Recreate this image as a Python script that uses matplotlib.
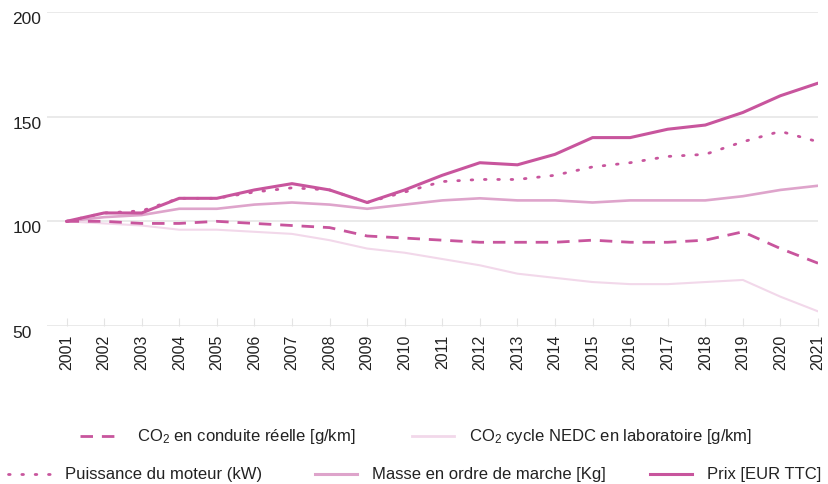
import matplotlib

matplotlib.use("Agg")
from matplotlib import pyplot as plt
from matplotlib.lines import Line2D

plt.rcParams["font.family"] = ["Liberation Sans", "DejaVu Sans"]
plt.rcParams["mathtext.default"] = "regular"

years = list(range(2001, 2022))

co2_real = [100, 100, 99, 99, 100, 99, 98, 97, 93, 92, 91, 90, 90, 90, 91, 90, 90, 91, 95, 87, 80]
co2_nedc = [100, 99, 98, 96, 96, 95, 94, 91, 87, 85, 82, 79, 75, 73, 71, 70, 70, 71, 72, 64, 57]
power = [100, 104, 105, 111, 111, 114, 116, 115, 109, 114, 119, 120, 120, 122, 126, 128, 131, 132, 138, 143, 138]
mass = [100, 102, 103, 106, 106, 108, 109, 108, 106, 108, 110, 111, 110, 110, 109, 110, 110, 110, 112, 115, 117]
price = [100, 104, 104, 111, 111, 115, 118, 115, 109, 115, 122, 128, 127, 132, 140, 140, 144, 146, 152, 160, 166]

y_ticks = [50, 100, 150, 200]

labels = {
    "co2_real": "CO$_2$ en conduite réelle [g/km]",
    "co2_nedc": "CO$_2$ cycle NEDC en laboratoire [g/km]",
    "power": "Puissance du moteur (kW)",
    "mass": "Masse en ordre de marche [Kg]",
    "price": "Prix [EUR TTC]",
}

strong = "#c8559d"
medium = "#dea4cb"
pale = "#f2d8ea"
grid_color = "#e4e4e4"
text_color = "#222222"

dashed = (4.5, 3.2)
dotted = (0, (0.6, 4.2))

W, H = 829, 484
fig = plt.figure(figsize=(W / 100, H / 100), dpi=100)
fig.patch.set_facecolor("white")

# axes box in pixels: left 47, right 818, top 12, bottom 326
ax = fig.add_axes([47 / W, 1 - 326 / H, (818 - 47) / W, (326 - 12) / H])

ax.plot(years, co2_nedc, color=pale, linewidth=1.5, solid_capstyle="round")
ax.plot(years, mass, color=medium, linewidth=1.9, solid_capstyle="round")
ax.plot(years, co2_real, color=strong, linewidth=2.0, dashes=dashed)
ax.plot(years, power, color=strong, linewidth=2.0, linestyle=dotted,
        dash_capstyle="round")
ax.plot(years, price, color=strong, linewidth=2.2, solid_capstyle="round")

ax.set_xlim(2000.48, 2021)
ax.set_ylim(50, 200)
ax.set_yticks(y_ticks)
ax.set_xticks(years)
ax.set_xticklabels([str(y) for y in years], rotation=90, va="top")

for spine in ax.spines.values():
    spine.set_visible(False)
ax.grid(axis="y", color=grid_color, linewidth=1.1)
ax.grid(axis="x", visible=False)
ax.set_axisbelow(True)

ax.tick_params(axis="y", length=0, pad=25, labelsize=12.5, colors=text_color)
for lbl in ax.get_yticklabels():
    lbl.set_horizontalalignment("left")
    lbl.set_verticalalignment("top")
ax.tick_params(axis="x", direction="in", length=6, width=0.8, color=grid_color,
               pad=6, labelsize=11.5, labelcolor=text_color)

legend_style = dict(
    frameon=False,
    fontsize=12,
    handlelength=2.5,
    handletextpad=0.95,
    borderpad=0,
    borderaxespad=0,
    loc="center left",
    labelcolor=text_color,
)

# one legend per entry so each sits at its own x position
entries = [
    (Line2D([], [], color=strong, linewidth=2.0, dashes=dashed),
     labels["co2_real"], 80, 437),
    (Line2D([], [], color=pale, linewidth=2.0),
     labels["co2_nedc"], 412, 437),
    (Line2D([], [], color=strong, linewidth=2.0, linestyle=dotted, dash_capstyle="round"),
     labels["power"], 8, 475),
    (Line2D([], [], color=medium, linewidth=2.2),
     labels["mass"], 315, 475),
    (Line2D([], [], color=strong, linewidth=2.2),
     labels["price"], 650, 475),
]
for handle, text, x_px, y_px in entries:
    fig.legend([handle], [text], bbox_to_anchor=(x_px / W, 1 - y_px / H), **legend_style)

fig.savefig("out.png", dpi=100)
